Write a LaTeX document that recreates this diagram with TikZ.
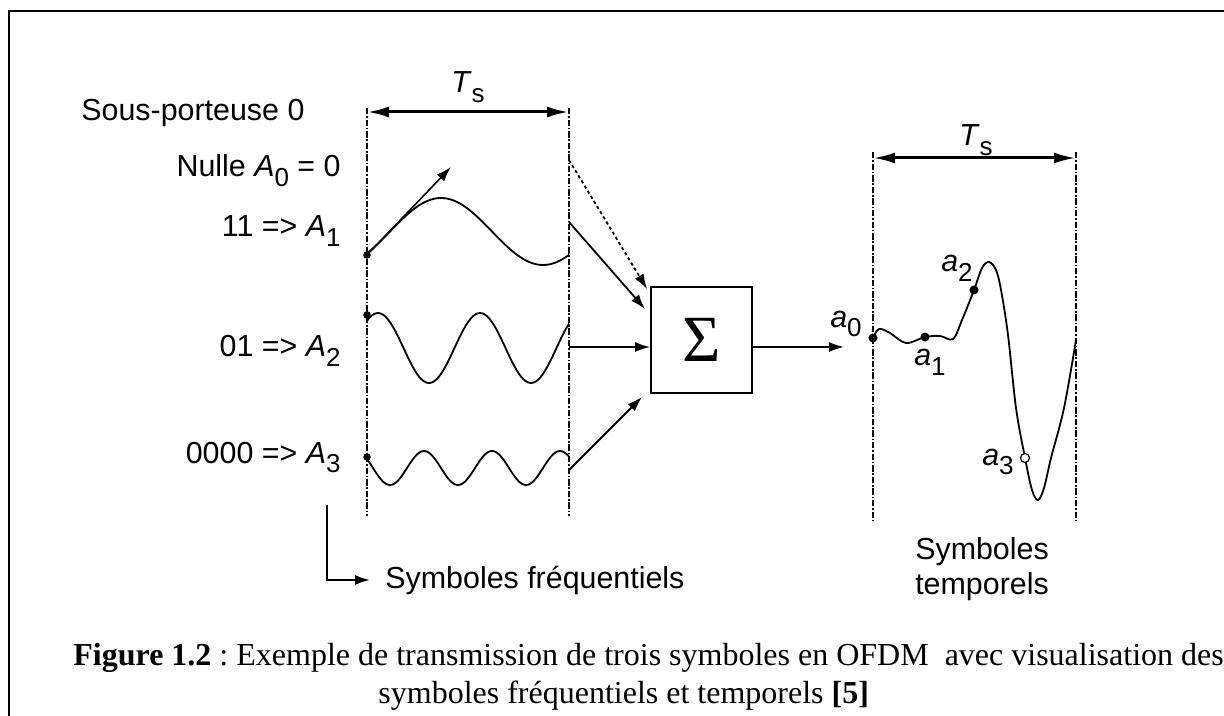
\documentclass[tikz,border=0pt]{standalone}
\usepackage{fontspec}
\setmainfont{Liberation Sans}
\newfontfamily\capfont{Liberation Serif}
\usetikzlibrary{arrows.meta,calc,positioning}
\newcommand{\lowsub}[1]{\raisebox{-0.32em}{\fontsize{13}{13}\selectfont #1}}
\frenchspacing

\begin{document}
\begin{tikzpicture}[x=0.5pt,y=-0.5pt,
    lbl/.style={font=\fontsize{15.2}{17.5}\selectfont,inner sep=0pt},
    guide/.style={line width=0.9pt,dash pattern=on 3.2pt off 0.9pt on 0.8pt off 0.9pt},
    sig/.style={line width=0.9pt},
    feed/.style={-{Latex[length=7.5pt,width=5pt]},line width=0.9pt},
    span/.style={{Latex[length=11pt,width=5.5pt]}-{Latex[length=11pt,width=5.5pt]},line width=1.5pt},
    dot/.style={circle,fill,inner sep=0pt,minimum size=4.5pt}]
  \useasboundingbox (0,0) rectangle (1224,716);
  \draw[line width=1.1pt] (9,716) -- (9,11) -- (1224,11);

  \draw[guide] (367,108) -- (367,516);
  \draw[guide,line width=1.3pt] (569,108) -- (569,516);
  \draw[span] (367,112) -- (569,112);
  \node[lbl] (ts1) at (468,87) {\textit{T}\lowsub{s}};

  \node[lbl,anchor=base west] (sp0) at (81,121) {Sous-porteuse 0};
  \node[lbl,anchor=base east] (l0) at (341,177) {Nulle \textit{A}\lowsub{0} = 0};
  \node[lbl,anchor=base east] (l1) at (341,237) {11 => \textit{A}\lowsub{1}};
  \node[lbl,anchor=base east] (l2) at (341,357) {01 => \textit{A}\lowsub{2}};
  \node[lbl,anchor=base east] (l3) at (341,463) {0000 => \textit{A}\lowsub{3}};

  \draw[sig] plot[domain=367:569,samples=90] (\x,{231.5-33.5*cos((\x-441)/204*360)});
  \draw[sig] plot[domain=367:569,samples=90] (\x,{348+35*cos((\x-531)/102*360)});
  \draw[sig] plot[domain=367:569,samples=120] (\x,{468+17*cos((\x-390)/68*360)});
  \node[dot,minimum size=3.8pt] (w1) at (367,255) {};
  \node[dot,minimum size=3.8pt] (w2) at (367,315) {};
  \node[dot,minimum size=3.8pt] (w3) at (367,457) {};
  \coordinate (tan) at (451,167);
  \draw[feed,line width=0.8pt] (w1) -- (tan);

  \node[draw,sig,minimum width=50.5pt,minimum height=53pt,inner sep=0pt] (sum) at (701.5,340)
    {\capfont\fontsize{33}{33}\selectfont Σ};
  \coordinate (o0) at (569,160);
  \coordinate (o1) at (569,222);
  \coordinate (o2) at (569,347);
  \coordinate (o3) at (569,470);
  \draw[feed,dash pattern=on 1.6pt off 1.4pt] (o0) -- ($(sum.north west)+(-3,3)$);
  \draw[feed] (o1) -- ($(sum.north west)+(-5,23)$);
  \draw[feed] (o2) -- (o2 -| sum.west);
  \draw[feed] (o3) -- ($(sum.south west)+(-8,3)$);
  \coordinate (outp) at (844,347);
  \draw[feed] (outp -| sum.east) -- (outp);

  \coordinate (c1) at (327,505);
  \node[lbl,anchor=base west] (freq) at (385,588) {Symboles fréquentiels};
  \draw[feed] (c1) |- ([xshift=-7.5pt]freq.west);

  \draw[guide] (873,152) -- (873,520);
  \draw[guide] (1076,152) -- (1076,520);
  \draw[span] (873,158) -- (1076,158);
  \node[lbl] (ts2) at (976,140) {\textit{T}\lowsub{s}};

  \draw[sig] plot[smooth,tension=0.55] coordinates {(873,338) (879,329) (890,333) (906,343)
    (925,337) (940,336) (953,339) (962,320) (974,290) (982,268) (989,262) (996,270)
    (1001,290) (1008,335) (1016,408) (1025,458) (1032,490) (1038,500) (1044,488)
    (1051,458) (1064,408) (1076,340)};
  \node[dot] (p0) at (873,338) {};
  \node[dot] (p1) at (925,337) {};
  \node[dot] (p2) at (974,290) {};
  \node[circle,draw,fill=white,inner sep=0pt,minimum size=4.5pt,line width=0.6pt] (p3) at (1025,458) {};
  \node[lbl] (a0) at (846,324) {\textit{a}\lowsub{0}};
  \node[lbl] (a1) at (930,362) {\textit{a}\lowsub{1}};
  \node[lbl] (a2) at (957,268) {\textit{a}\lowsub{2}};
  \node[lbl] (a3) at (998,462) {\textit{a}\lowsub{3}};
  \node[lbl,align=center] (temp) at (982,569) {Symboles\\temporels};

  \node[anchor=base west,inner sep=0pt,font=\capfont\fontsize{16}{19}\selectfont] (cap1) at (73,665)
    {\textbf{Figure 1.2} : Exemple de transmission de trois symboles en OFDM\ \ avec visualisation des};
  \node[anchor=base west,inner sep=0pt,font=\capfont\fontsize{16}{19}\selectfont] (cap2) at (378,703)
    {symboles fréquentiels et temporels \textbf{[5]}};
\end{tikzpicture}
\end{document}
